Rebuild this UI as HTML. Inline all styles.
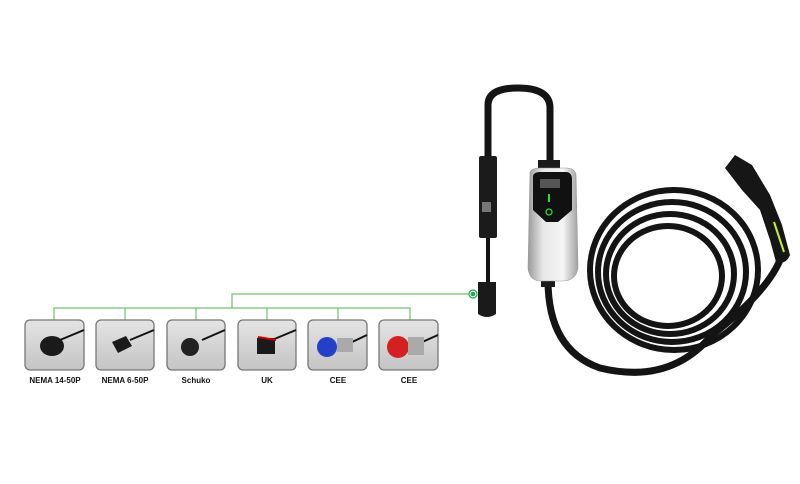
<!DOCTYPE html>
<html><head><style>
body{margin:0;width:800px;height:484px;background:#fff;overflow:hidden;font-family:"Liberation Sans",sans-serif;}
.lbl{position:absolute;font-size:8px;font-weight:bold;color:#111;text-align:center;width:80px;}
</style></head><body>
<svg width="800" height="484" style="position:absolute;left:0;top:0">
<defs>
<linearGradient id="bx" x1="0" y1="0" x2="0" y2="1"><stop offset="0" stop-color="#e4e4e4"/><stop offset="1" stop-color="#c4c4c4"/></linearGradient>
<linearGradient id="cb" x1="0" y1="0" x2="1" y2="0"><stop offset="0" stop-color="#9a9a9a"/><stop offset=".3" stop-color="#e8e8e8"/><stop offset=".7" stop-color="#f4f4f4"/><stop offset="1" stop-color="#a0a0a0"/></linearGradient>
</defs>
<g stroke="#6cc56c" stroke-width="1.2" fill="none">
<path d="M232 308 V294 H470"/>
<path d="M54 320 V308 H410 V320"/>
<path d="M125 308 V320 M196 308 V320 M267 308 V320 M338 308 V320"/>
</g>
<circle cx="473" cy="294" r="4" fill="#fff" stroke="#1fa64a" stroke-width="1.2"/>
<circle cx="473" cy="294" r="2.3" fill="#1fa64a"/>
<g stroke="#777" stroke-width="1.3" fill="url(#bx)">
<rect x="25" y="320" width="59" height="50" rx="5"/>
<rect x="96" y="320" width="58" height="50" rx="5"/>
<rect x="167" y="320" width="58" height="50" rx="5"/>
<rect x="238" y="320" width="58" height="50" rx="5"/>
<rect x="308" y="320" width="59" height="50" rx="5"/>
<rect x="379" y="320" width="59" height="50" rx="5"/>
</g>
<g stroke="#111" stroke-width="2" fill="none"><path d="M60 340 L84 330"/><path d="M130 340 L154 330"/><path d="M202 340 L225 330"/><path d="M272 340 L296 330"/><path d="M350 343 L367 335"/><path d="M420 343 L438 335"/></g>
<ellipse cx="52" cy="346" rx="12" ry="10" fill="#1a1a1a"/>
<path d="M112 342 l14 -6 6 10 -14 7z" fill="#1a1a1a"/>
<ellipse cx="190" cy="347" rx="9" ry="9" fill="#222"/>
<path d="M257 338 h18 v16 h-18z" fill="#1a1a1a"/><path d="M258 337 l18 3" stroke="#c00" stroke-width="2"/>
<circle cx="327" cy="347" r="10" fill="#2340c8"/><rect x="337" y="338" width="16" height="14" fill="#aaa"/>
<circle cx="398" cy="347" r="11" fill="#d42020"/><rect x="408" y="337" width="16" height="18" fill="#aaa"/>
<g fill="none" stroke="#141414" stroke-linecap="round">
<path d="M488 160 V105 Q488 88 518 88 Q550 88 550 108 V170" stroke-width="7"/>
<path d="M488 235 V285" stroke-width="4"/>
<path d="M548 280 Q548 350 600 368 Q670 385 712 335" stroke-width="7"/>
<ellipse cx="674" cy="270" rx="84" ry="80" stroke-width="6"/>
<ellipse cx="672" cy="272" rx="74" ry="70" stroke-width="6"/>
<ellipse cx="670" cy="274" rx="64" ry="60" stroke-width="6"/>
<ellipse cx="668" cy="276" rx="54" ry="50" stroke-width="6"/>
<path d="M712 335 Q770 290 782 255" stroke-width="7"/>
</g>
<rect x="479" y="156" width="18" height="82" rx="2" fill="#1b1b1b"/>
<rect x="482" y="202" width="9" height="10" fill="#777"/>
<path d="M478 282 h18 v32 q-9 6 -18 0z" fill="#1a1a1a"/>
<rect x="538" y="160" width="22" height="12" fill="#1a1a1a"/>
<rect x="541" y="275" width="14" height="12" fill="#1a1a1a"/>
<path d="M530 172 Q532 168 540 168 H566 Q574 168 576 174 L578 268 Q576 280 564 281 H540 Q529 280 528 268Z" fill="url(#cb)" stroke="#999" stroke-width=".6"/>
<path d="M533 176 Q534 172 540 172 H566 Q571 172 572 178 V210 L558 222 H546 L533 210Z" fill="#111"/>
<rect x="540" y="179" width="20" height="9" fill="#555"/>
<rect x="548" y="194" width="2" height="8" fill="#2ed52e"/>
<circle cx="549" cy="212" r="3" fill="none" stroke="#2ed52e" stroke-width="1.3"/>
<path d="M725 168 L735 155 L752 165 L770 195 L782 225 L790 255 Q786 265 776 262 L770 240 L760 210 L742 190 Z" fill="#161616"/>
<path d="M774 222 L784 252" stroke="#c6f02c" stroke-width="2"/>
</svg>
<div class="lbl" style="left:15px;top:376px">NEMA 14-50P</div>
<div class="lbl" style="left:85px;top:376px">NEMA 6-50P</div>
<div class="lbl" style="left:156px;top:376px">Schuko</div>
<div class="lbl" style="left:227px;top:376px">UK</div>
<div class="lbl" style="left:298px;top:376px">CEE</div>
<div class="lbl" style="left:369px;top:376px">CEE</div>
</body></html>
